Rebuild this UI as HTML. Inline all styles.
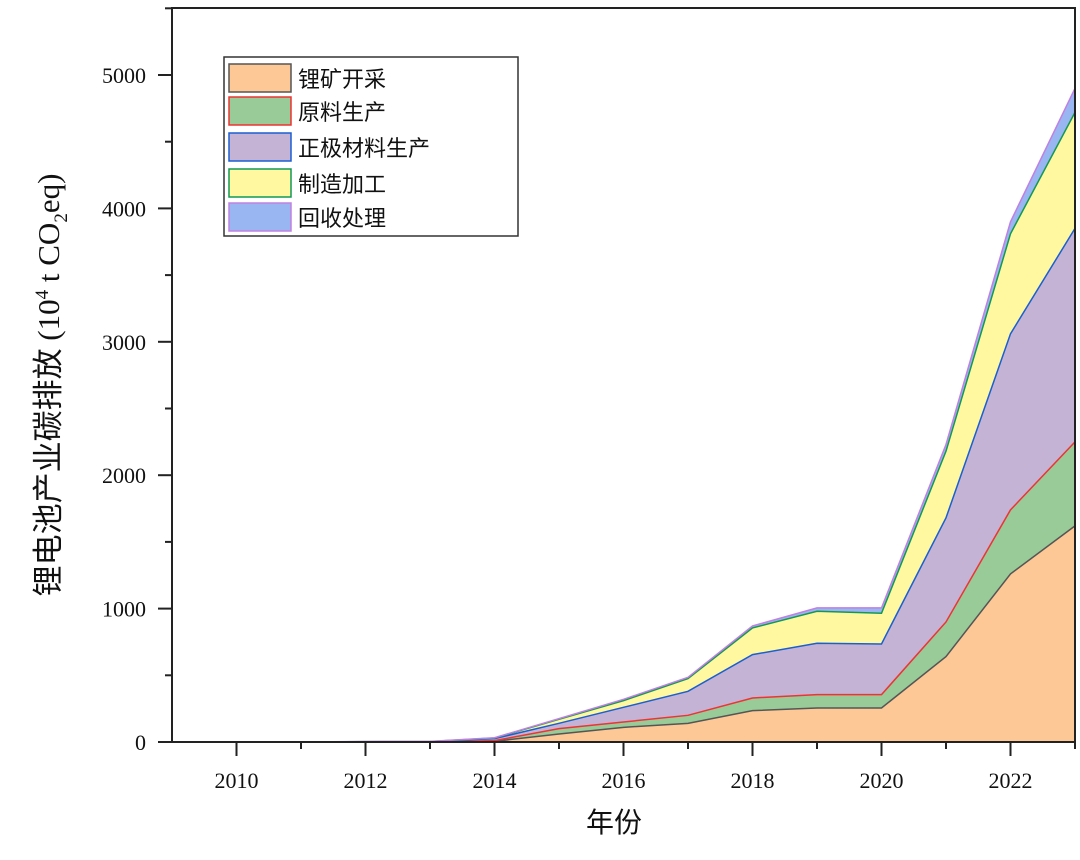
<!DOCTYPE html>
<html><head><meta charset="utf-8">
<style>
body{margin:0;background:#fff;width:1080px;height:855px;overflow:hidden}
text{font-family:"Liberation Serif","Noto Serif CJK SC",serif}
.cjk{font-family:"Liberation Sans","Noto Sans CJK SC",sans-serif}
</style></head><body>
<svg id="chart" width="1080" height="855" xmlns="http://www.w3.org/2000/svg"></svg>
<script>
const years=[2009,2010,2011,2012,2013,2014,2015,2016,2017,2018,2019,2020,2021,2022,2023];
const mining=[0,0,0,0,0,5,60,110,140,235,255,255,640,1260,1620];
const rawMaterial=[0,0,0,0,0,5,40,40,60,95,100,100,260,480,630];
const cathode=[0,0,0,2,3,15,40,110,180,325,385,380,780,1320,1600];
const manufacturing=[0,0,0,1,1,5,30,50,95,200,240,230,500,750,870];
const recycling=[0,0,0,1,1,2,5,10,10,15,25,40,50,90,180];
const xTicks=[2010,2012,2014,2016,2018,2020,2022];
const yTicks=[0,1000,2000,3000,4000,5000];
const seriesNames=["锂矿开采","原料生产","正极材料生产","制造加工","回收处理"];
const fills=["#fec896","#98cb98","#c4b3d4","#fff8a0","#99b6f2"];
const strokes=["#555555","#ee3333","#1a5fd0","#119955","#c080e0"];

const svg=document.getElementById('chart');
const NS="http://www.w3.org/2000/svg";
const L=172,R=1075,T=8,B=742;
const x=v=>L+(v-2009)/(2023-2009)*(R-L);
const y=v=>B-v/5000*667;
function mk(tag,attrs,parent){const e=document.createElementNS(NS,tag);for(const k in attrs)e.setAttribute(k,attrs[k]);(parent||svg).appendChild(e);return e;}

const series=[mining,rawMaterial,cathode,manufacturing,recycling];
let base=years.map(()=>0);
const layers=[];
series.forEach((s,i)=>{
  const top=base.map((b,j)=>b+s[j]);
  layers.push({base:base.slice(),top});
  base=top;
});
const names=["area-mining","area-raw-material","area-cathode","area-manufacturing","area-recycling"];
layers.forEach((ly,i)=>{
  let d="M"+years.map((yr,j)=>x(yr)+","+y(ly.top[j])).join("L");
  for(let j=years.length-1;j>=0;j--)d+="L"+x(years[j])+","+y(ly.base[j]);
  d+="Z";
  const p=mk('path',{d,fill:fills[i],stroke:'none'});
  
  
});
layers.forEach((ly,i)=>{
  const ln=mk('polyline',{points:years.map((yr,j)=>x(yr)+","+y(ly.top[j])).join(" "),fill:'none',stroke:strokes[i],'stroke-width':1.5});
  
  
});
const fr=mk('rect',{x:L,y:T,width:R-L,height:B-T,fill:'none',stroke:'#222','stroke-width':2});


xTicks.forEach(t=>{
  const tk=mk('line',{x1:x(t),x2:x(t),y1:B,y2:B+14,stroke:'#222','stroke-width':2});
  
  
  const lb=mk('text',{x:x(t),y:B+46,'text-anchor':'middle','font-size':22,fill:'#111'});
  lb.textContent=t;
  
  
});
[2011,2013,2015,2017,2019,2021,2023].forEach(t=>{
  const tk=mk('line',{x1:x(t),x2:x(t),y1:B,y2:B+7,stroke:'#222','stroke-width':2});
  
  
});
yTicks.forEach(t=>{
  const tk=mk('line',{x1:L-14,x2:L,y1:y(t),y2:y(t),stroke:'#222','stroke-width':2});
  
  
  const lb=mk('text',{x:L-26,y:y(t)+8,'text-anchor':'end','font-size':22,fill:'#111'});
  lb.textContent=t;
  
  
});
[500,1500,2500,3500,4500,5500].forEach(t=>{
  const tk=mk('line',{x1:L-7,x2:L,y1:y(t),y2:y(t),stroke:'#222','stroke-width':2});
  
  
});
const xt=mk('text',{x:614,y:832,'text-anchor':'middle','font-size':28,fill:'#111',class:'cjk'});
xt.textContent="年份";


const yt=mk('text',{x:0,y:0,'text-anchor':'middle','font-size':31,fill:'#111',transform:'translate(59,385) rotate(-90)'});
yt.innerHTML='<tspan class="cjk">锂电池产业碳排放</tspan> (10<tspan font-size="19" dy="-11">4</tspan><tspan dy="11"> t CO</tspan><tspan font-size="19" dy="8">2</tspan><tspan dy="-8">eq)</tspan>';


const lg=mk('g',{});


mk('rect',{x:224,y:57,width:294,height:179,fill:'#fff',stroke:'#333','stroke-width':1.5},lg);
const ly0=[64,97,133,169,203];
seriesNames.forEach((n,i)=>{
  const g=mk('g',{},lg);
  
  
  mk('rect',{x:229,y:ly0[i],width:62,height:28,fill:fills[i],stroke:strokes[i],'stroke-width':1.5},g);
  const t=mk('text',{x:298,y:ly0[i]+23,'font-size':22,fill:'#111',class:'cjk'},g);
  t.textContent=n;
});
</script>
</body></html>
